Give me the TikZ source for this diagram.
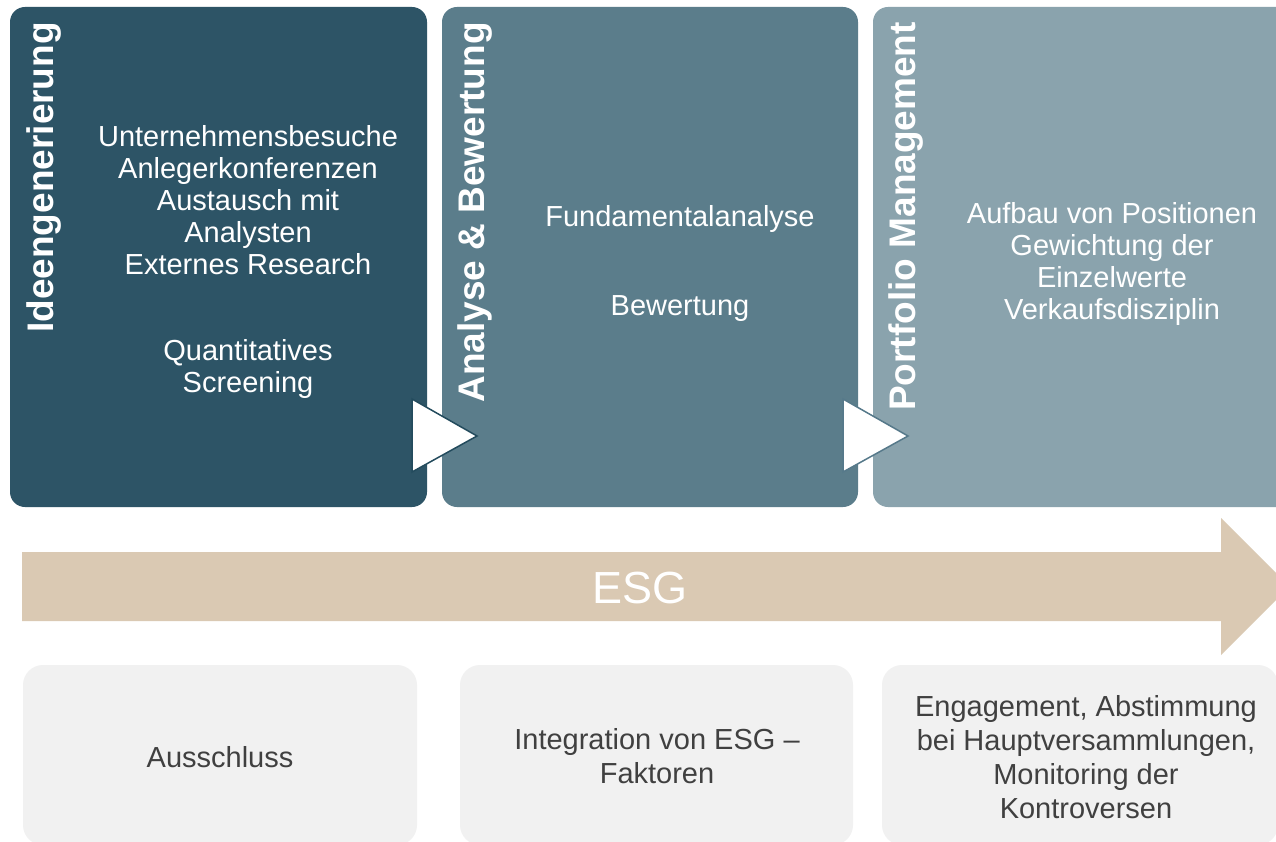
\documentclass[tikz,border=0pt]{standalone}
\usepackage{fontspec}
\setmainfont{Liberation Sans}
\definecolor{cOne}{HTML}{2D5466}
\definecolor{cTwo}{HTML}{5B7D8B}
\definecolor{cThree}{HTML}{8AA3AD}
\definecolor{cEsg}{HTML}{DAC9B3}
\definecolor{cGray}{HTML}{F1F1F1}
\definecolor{cText}{HTML}{404040}
\definecolor{cTriOne}{HTML}{234B5D}
\definecolor{cTriTwo}{HTML}{56798A}
\begin{document}
\begin{tikzpicture}[x=1pt,y=-1pt,
  stagebox/.style={rectangle, rounded corners=15pt, inner sep=0pt, outer sep=0pt, anchor=north west},
  graybox/.style={rectangle, rounded corners=20pt, fill=cGray, inner sep=0pt, outer sep=0pt, anchor=north west},
  titletext/.style={rotate=90, anchor=base east, inner sep=0pt, text=white, font=\bfseries\fontsize{37}{40}\selectfont},
  bodytext/.style={anchor=base, inner sep=0pt, align=center, text=white, font=\fontsize{29}{31.75}\selectfont},
  graytext/.style={anchor=base, inner sep=0pt, align=center, text=cText, font=\fontsize{29}{34}\selectfont},
  tri/.style={fill=white, line width=1.5pt, line join=miter}
]
\useasboundingbox (0,0) rectangle (1276,842);
\clip (0,0) rectangle (1276,842);
\fill[white] (0,0) rectangle (1276,842);

% stage boxes
\node[stagebox, fill=cOne, minimum width=417pt, minimum height=500pt] (s1) at (10,7) {};
\node[stagebox, fill=cTwo, minimum width=416pt, minimum height=500pt] (s2) at (442,7) {};
\node[stagebox, fill=cThree, minimum width=440pt, minimum height=500pt] (s3) at (873,7) {};

% titles
\node[titletext] (t1) at (53,22) {Ideengenerierung};
\node[titletext] (t2) at (484,22) {Analyse \& Bewertung};
\node[titletext] (t3) at (915,22) {Portfolio Management};

% body texts (base anchor = baseline of the last line)
\node[bodytext] (b1a) at (248,274) {Unternehmensbesuche\\Anlegerkonferenzen\\Austausch mit\\Analysten\\Externes Research};
\node[bodytext] (b1b) at (248,392) {Quantitatives\\Screening};
\node[bodytext] (b2a) at (680,227) {Fundamentalanalyse};
\node[bodytext] (b2b) at (680,315) {Bewertung};
\node[bodytext] (b3a) at (1112,319) {Aufbau von Positionen\\Gewichtung der\\Einzelwerte\\Verkaufsdisziplin};

% triangles
\draw[tri, draw=cTriOne] (412,399) -- (412,472) -- (477,436) -- cycle;
\draw[tri, draw=cTriTwo] (843,399) -- (843,472) -- (908,436) -- cycle;

% ESG arrow
\fill[cEsg] (22,552) -- (1221,552) -- (1221,518) -- (1289.5,586.5) -- (1221,655) -- (1221,621) -- (22,621) -- cycle;
\node[inner sep=0pt, text=white, font=\fontsize{45}{50}\selectfont] (esg) at (640,588) {ESG};

% bottom boxes
\node[graybox, minimum width=394pt, minimum height=180pt] (g1) at (23,665) {};
\node[graybox, minimum width=393pt, minimum height=180pt] (g2) at (460,665) {};
\node[graybox, minimum width=396pt, minimum height=180pt] (g3) at (882,665) {};

\node[graytext] (g1t) at (220,767) {Ausschluss};
\node[graytext] (g2t) at (657,783) {Integration von ESG –\\Faktoren};
\node[graytext] (g3t) at (1086,818) {Engagement, Abstimmung\\bei Hauptversammlungen,\\Monitoring der\\Kontroversen};
\end{tikzpicture}
\end{document}
